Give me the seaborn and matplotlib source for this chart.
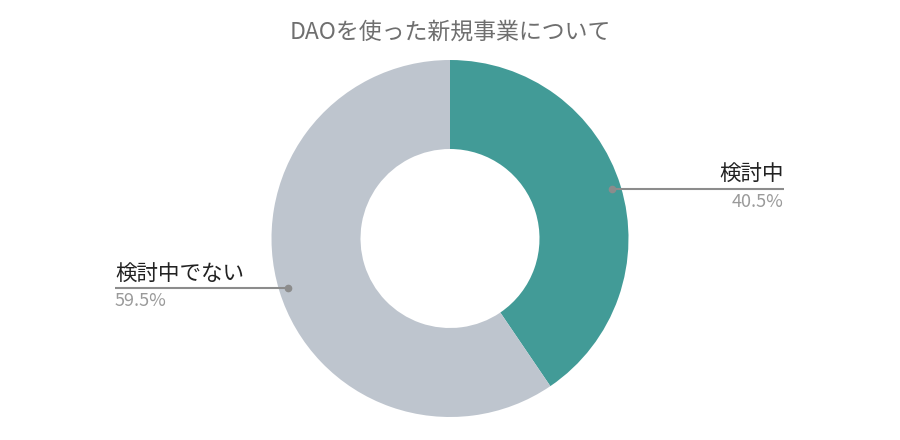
import matplotlib
matplotlib.use("Agg")
import matplotlib.pyplot as plt
import numpy as np
import seaborn as sns

# data
labels = ["検討中", "検討中でない"]
shares = [40.5, 59.5]
colors = ["#429B97", "#BEC5CE"]
title = "DAOを使った新規事業について"

sns.set_theme(style="white")
plt.rcParams["font.family"] = ["Noto Sans CJK JP", "DejaVu Sans"]

W, H = 900, 440
fig = plt.figure(figsize=(W / 100, H / 100), dpi=100)
ax = fig.add_axes([0, 0, 1, 1])

cx, cy = 450, H - 238.5
R = 178.5
wedges, _ = ax.pie(shares, colors=colors, startangle=90, counterclock=False,
                   center=(cx, cy), radius=R,
                   wedgeprops=dict(width=R - 89.5, linewidth=0))
ax.set_xlim(0, W)
ax.set_ylim(0, H)
ax.set_aspect("equal")
ax.axis("off")

# leader lines + labels
line_r = 170
for w, lab, val in zip(wedges, labels, shares):
    ang = np.deg2rad((w.theta1 + w.theta2) / 2)
    px, py = cx + line_r * np.cos(ang), cy + line_r * np.sin(ang)
    if px > cx:
        x_end, ha = 784, "right"
    else:
        x_end, ha = 115, "left"
    ax.plot([px, x_end], [py, py], color="#8c8c8c", lw=1.5, solid_capstyle="butt")
    ax.plot(px, py, "o", color="#8c8c8c", ms=4.5)
    ax.text(x_end, py + 3, lab, ha=ha, va="bottom", fontsize=15.5, color="#222222")
    ax.text(x_end, py - 4, f"{val}%", ha=ha, va="top", fontsize=13, color="#9a9a9a")

fig.text(0.5, 1 - 32 / H, title, ha="center", va="center", fontsize=16.5, color="#6f6f6f")

fig.savefig("out.png", dpi=100, facecolor="white")
